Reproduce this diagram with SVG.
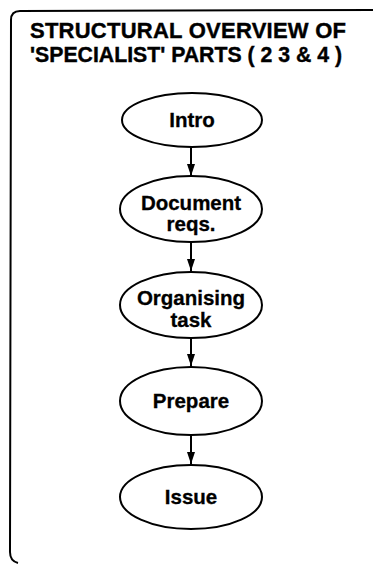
<svg xmlns="http://www.w3.org/2000/svg" width="373" height="564" viewBox="0 0 373 564">
  <defs>
    <marker id="head" viewBox="0 0 12 10" refX="12" refY="5" markerWidth="6" markerHeight="5" markerUnits="strokeWidth" orient="auto">
      <path d="M0,1 L12,5 L0,9 Z" fill="#000"/>
    </marker>
    <style>
      .frame { fill: none; stroke: #000; stroke-width: 2; }
      .title { font-family: "Liberation Sans", Arial, sans-serif; font-weight: bold; font-size: 22px; fill: #000; stroke: #000; stroke-width: 0.4; }
      .node ellipse { fill: #fff; stroke: #000; stroke-width: 2; }
      .node text { font-family: "Liberation Sans", Arial, sans-serif; font-weight: bold; font-size: 20.5px; fill: #000; stroke: #000; stroke-width: 0.3; text-anchor: middle; }
      .edge { stroke: #000; stroke-width: 2; fill: none; marker-end: url(#head); }
    </style>
  </defs>
  <rect width="373" height="564" fill="#fff"/>

  <!-- open-ended frame -->
  <path class="frame" d="M373,10 L20,11 Q11,11 11,20 L10,552 Q10,561 18,563"/>

  <text class="title" x="30" y="38" textLength="316" lengthAdjust="spacing">STRUCTURAL OVERVIEW OF</text>
  <text class="title" x="30" y="62" textLength="312" lengthAdjust="spacingAndGlyphs">'SPECIALIST' PARTS ( 2 3 &amp; 4 )</text>

  <g id="connectors">
    <line class="edge" x1="191" y1="147" x2="191" y2="176"/>
    <line class="edge" x1="191" y1="242" x2="191" y2="271"/>
    <line class="edge" x1="191" y1="338" x2="191" y2="366"/>
    <line class="edge" x1="191" y1="435" x2="191" y2="464"/>
  </g>

  <g id="intro" class="node">
    <ellipse cx="192" cy="120" rx="70" ry="27"/>
    <text x="192" y="127">Intro</text>
  </g>
  <g id="document-reqs" class="node">
    <ellipse cx="191" cy="209" rx="71" ry="33"/>
    <text x="191" y="210">Document</text>
    <text x="191" y="231">reqs.</text>
  </g>
  <g id="organising-task" class="node">
    <ellipse cx="191" cy="305" rx="71" ry="33"/>
    <text x="191" y="305">Organising</text>
    <text x="191" y="327">task</text>
  </g>
  <g id="prepare" class="node">
    <ellipse cx="191" cy="401" rx="71" ry="34"/>
    <text x="191" y="408">Prepare</text>
  </g>
  <g id="issue" class="node">
    <ellipse cx="191" cy="497" rx="71" ry="32"/>
    <text x="191" y="504">Issue</text>
  </g>
</svg>
